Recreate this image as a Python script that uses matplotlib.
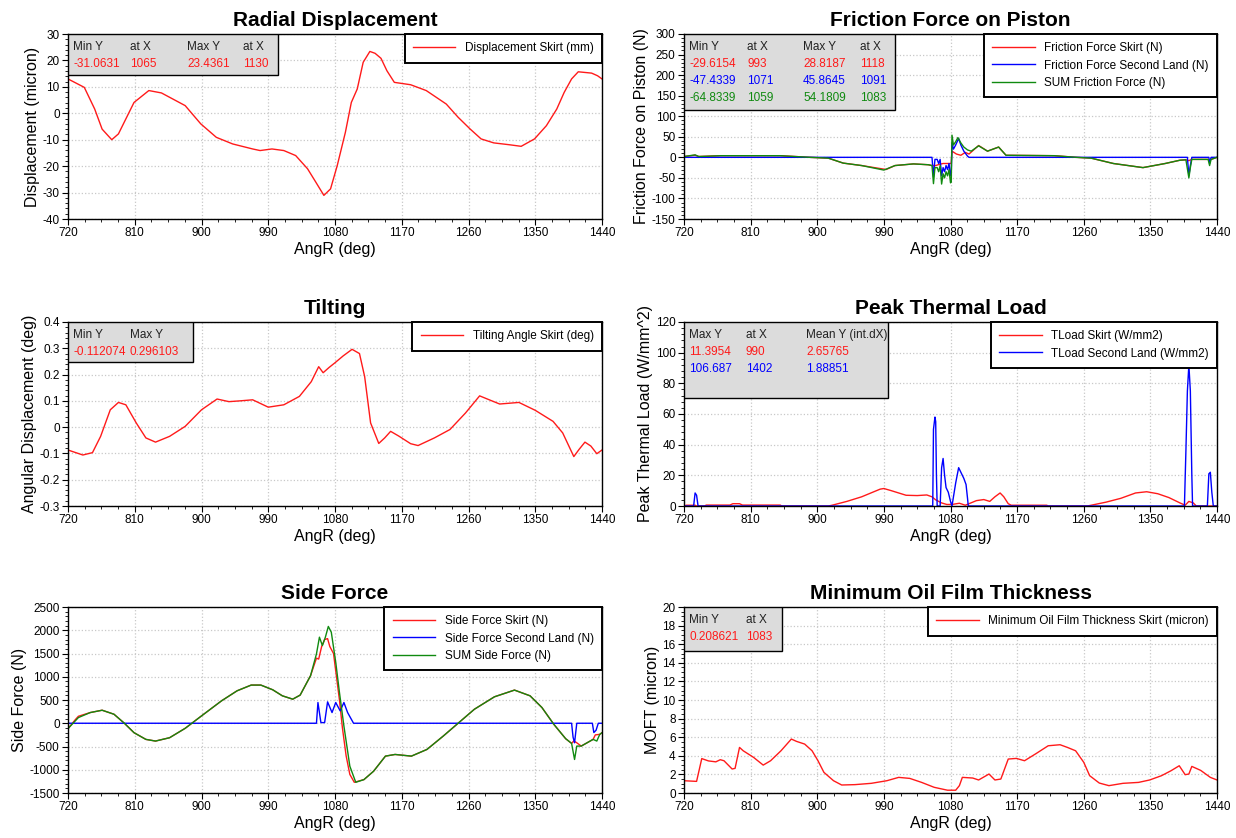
import numpy as np
import matplotlib
matplotlib.use("Agg")
import matplotlib.pyplot as plt
from matplotlib.patches import Rectangle
from matplotlib.ticker import MultipleLocator, FuncFormatter

plt.rcParams["font.family"] = ["Liberation Sans", "DejaVu Sans"]
plt.rcParams["axes.unicode_minus"] = False

RED, BLUE, GREEN = "#ff1a1a", "#0000ff", "#108a10"

# ---- radial displacement (micron) ----
rad_x = [720, 742, 756, 766, 779, 788, 809, 829, 846, 878, 899, 920, 942, 969, 979, 995, 1011,
         1027, 1043, 1054, 1065, 1074, 1083, 1094, 1102, 1110, 1118, 1127, 1134, 1142, 1150, 1160,
         1182, 1203, 1230, 1246, 1262, 1277, 1294, 1315, 1331, 1349, 1365, 1379, 1389, 1399, 1408,
         1426, 1434, 1440]
rad_y = [13.0, 9.8, 1.6, -6.0, -10.0, -7.8, 4.1, 8.6, 7.7, 2.9, -4.0, -9.1, -11.6, -13.5, -14.1,
         -13.5, -14.1, -16.0, -21.0, -26.0, -31.06, -28.6, -19.8, -7.2, 4.1, 9.2, 19.3, 23.4, 22.7,
         20.8, 16.1, 11.7, 10.8, 8.6, 3.5, -1.5, -5.9, -9.7, -11.2, -11.9, -12.5, -9.7, -4.7, 1.6,
         7.9, 13.0, 15.7, 15.2, 14.2, 13.0]

# ---- friction force (N) ----
fr_red_x = [720, 735, 740, 770, 850, 890, 915, 935, 960, 993, 1005, 1030, 1050, 1055, 1060, 1065,
            1070, 1080, 1081, 1082, 1088, 1094, 1100, 1105, 1118, 1130, 1145, 1155, 1220, 1250,
            1270, 1300, 1340, 1370, 1390, 1398, 1402, 1406, 1428, 1430, 1432, 1440]
fr_red_y = [2, 5, 2, 4, 4, 0, -2, -14, -20, -29.6, -20, -16, -18, -20, -20, -17, -15, -15, -14,
            15, 8, 5, 12, 8, 28.8, 15, 25, 5, 4, 0, -2, -15, -25, -15, -7, -6, -8, -5, -5, -8,
            -5, 0]
fr_blue_x = [720, 1055, 1057, 1059, 1062, 1064, 1066, 1068, 1070, 1072, 1074, 1076, 1078, 1080,
             1081, 1082, 1084, 1087, 1091, 1094, 1098, 1103, 1105, 1400, 1402, 1404, 1406, 1429,
             1430, 1432, 1440]
fr_blue_y = [0, 0, -47, -5, -5, -15, -5, -45, -25, -35, -20, -30, -15, -45, -40, 35, 20, 30, 45.9,
             30, 15, 3, 0, 0, -45, -20, 0, 0, -15, 0, 0]
fr_sum_x = [720, 735, 740, 770, 850, 890, 915, 935, 960, 990, 1005, 1030, 1050, 1055, 1057, 1059,
            1062, 1064, 1066, 1068, 1070, 1072, 1074, 1076, 1078, 1080, 1081, 1082, 1084, 1087,
            1090, 1094, 1098, 1103, 1108, 1118, 1130, 1145, 1155, 1220, 1250, 1270, 1300, 1340,
            1370, 1390, 1398, 1402, 1404, 1406, 1428, 1430, 1432, 1440]
fr_sum_y = [2, 6, 2, 4, 4, 0, -2, -14, -20, -31, -20, -16, -18, -20, -64, -25, -25, -35, -20, -65,
            -40, -50, -35, -45, -30, -62, -60, 54, 30, 38, 48, 35, 25, 18, 15, 28, 15, 25, 5, 4,
            0, -2, -15, -25, -15, -7, -6, -50, -25, -5, -5, -20, -5, 0]

# ---- tilting (deg) ----
tilt_x = [720, 740, 753, 764, 777, 788, 798, 812, 825, 838, 857, 878, 900, 921, 937, 952, 969,
          990, 1011, 1032, 1048, 1058, 1064, 1072, 1080, 1091, 1103, 1113, 1120, 1128, 1139, 1147,
          1155, 1166, 1182, 1192, 1214, 1235, 1256, 1275, 1288, 1302, 1328, 1350, 1374, 1387,
          1402, 1409, 1417, 1425, 1433, 1440]
tilt_y = [-0.087, -0.106, -0.097, -0.035, 0.066, 0.094, 0.085, 0.016, -0.041, -0.057, -0.035,
          0.003, 0.066, 0.107, 0.097, 0.100, 0.104, 0.076, 0.085, 0.117, 0.173, 0.230, 0.207,
          0.227, 0.245, 0.271, 0.296, 0.280, 0.192, 0.016, -0.062, -0.041, -0.016, -0.034,
          -0.063, -0.070, -0.041, -0.009, 0.054, 0.119, 0.104, 0.088, 0.094, 0.064, 0.022,
          -0.022, -0.112, -0.085, -0.057, -0.072, -0.101, -0.087]

# ---- peak thermal load (W/mm^2) ----
tl_red_x = [720, 723, 735, 737, 748, 750, 782, 786, 795, 799, 850, 852, 915, 920, 940, 960, 975,
            985, 990, 1000, 1010, 1020, 1035, 1048, 1055, 1060, 1068, 1075, 1082, 1092, 1100,
            1105, 1115, 1125, 1133, 1140, 1147, 1152, 1158, 1162, 1210, 1212, 1265, 1270, 1290,
            1310, 1330, 1345, 1360, 1375, 1390, 1397, 1402, 1408, 1412, 1440]
tl_red_y = [0, 0.5, 0.5, 0, 0, 0.6, 0.6, 1.5, 1.5, 0.6, 0.6, 0, 0, 0.5, 3, 6, 9, 11, 11.4, 10,
            8.5, 7, 6.8, 7.2, 6, 4, 2, 1, 1, 1.8, 0.5, 1.5, 3.5, 4.2, 3, 6, 8.5, 6, 1.5, 0.5, 0.5,
            0, 0, 0.5, 2.5, 5, 8.5, 9.3, 8, 5.5, 2, 0.5, 3, 2, 0, 0]
tl_blue_x = [720, 733, 735, 737, 739, 1056, 1057, 1059, 1060, 1061, 1062, 1066, 1068, 1070, 1072,
             1074, 1077, 1080, 1082, 1087, 1091, 1095, 1098, 1101, 1103, 1104, 1396, 1398, 1400,
             1402, 1404, 1406, 1407, 1427, 1429, 1431, 1433, 1435, 1440]
tl_blue_y = [0, 0, 8.5, 7, 0, 0, 50, 58, 55, 20, 0, 0, 25, 31, 20, 12, 9, 3, 0, 15, 25, 21, 18, 14,
             5, 0, 0, 36, 75, 92, 75, 20, 0, 0, 21, 22, 9, 0, 0]

# ---- side force (N) ----
sf_sum_x = [720, 734, 750, 766, 782, 796, 809, 825, 838, 857, 878, 900, 927, 948, 967, 980, 996,
            1009, 1023, 1033, 1047, 1055, 1059, 1063, 1067, 1071, 1075, 1081, 1086, 1092, 1100,
            1108, 1119, 1132, 1148, 1161, 1183, 1204, 1226, 1247, 1268, 1295, 1322, 1343, 1359,
            1375, 1391, 1399, 1403, 1406, 1412, 1428, 1433, 1437, 1440]
sf_sum_y = [-116, 122, 230, 280, 194, 0, -203, -347, -383, -311, -109, 158, 482, 698, 821, 821,
            720, 590, 518, 605, 1022, 1491, 1851, 1671, 1850, 2082, 1959, 1311, 662, -59, -923,
            -1270, -1212, -1032, -707, -671, -707, -563, -275, 14, 302, 569, 713, 590, 338, -22,
            -332, -433, -779, -491, -491, -347, -383, -239, -203]
sf_red_x = [720, 730, 734, 750, 766, 782, 796, 809, 825, 838, 857, 878, 900, 927, 948, 967, 980,
            996, 1009, 1023, 1033, 1047, 1055, 1058, 1062, 1066, 1070, 1073, 1078, 1082, 1086,
            1090, 1095, 1100, 1106, 1119, 1132, 1148, 1161, 1183, 1204, 1226, 1247, 1268, 1295,
            1322, 1343, 1359, 1375, 1391, 1399, 1402, 1406, 1412, 1428, 1431, 1437, 1440]
sf_red_y = [-116, 80, 150, 230, 280, 194, 0, -203, -347, -383, -311, -109, 158, 482, 698, 821,
            821, 720, 590, 518, 605, 1022, 1400, 1380, 1650, 1800, 1820, 1650, 1500, 1000, 500,
            -100, -700, -1100, -1270, -1212, -1032, -707, -671, -707, -563, -275, 14, 302, 569,
            713, 590, 338, -22, -332, -433, -380, -420, -491, -347, -250, -239, -203]
sf_blue_x = [720, 1055, 1057, 1061, 1066, 1070, 1076, 1081, 1087, 1092, 1097, 1105, 1399, 1401,
             1403, 1406, 1427, 1429, 1432, 1435, 1440]
sf_blue_y = [0, 0, 446, 14, 14, 460, 230, 446, 266, 446, 230, 0, 0, -300, -420, 0, 0, -200, -150,
             0, 0]

# ---- minimum oil film thickness (micron) ----
moft_x = [720, 737, 744, 753, 763, 769, 774, 785, 789, 795, 800, 814, 827, 837, 851, 865, 872,
          883, 893, 901, 909, 922, 933, 951, 973, 994, 1010, 1025, 1041, 1058, 1076, 1087, 1092,
          1096, 1110, 1118, 1132, 1140, 1148, 1158, 1169, 1180, 1196, 1212, 1228, 1238, 1249,
          1260, 1268, 1281, 1294, 1313, 1334, 1349, 1365, 1378, 1389, 1397, 1402, 1406, 1418,
          1431, 1440]
moft_y = [1.32, 1.25, 3.7, 3.45, 3.35, 3.58, 3.47, 2.58, 2.65, 4.9, 4.54, 3.83, 3.0, 3.47, 4.54,
          5.8, 5.55, 5.26, 4.54, 3.47, 2.22, 1.32, 0.86, 0.9, 1.04, 1.32, 1.68, 1.57, 1.14, 0.61,
          0.3, 0.3, 0.79, 1.68, 1.61, 1.4, 2.04, 1.4, 1.5, 3.65, 3.72, 3.47, 4.26, 5.08, 5.19,
          4.9, 4.54, 3.3, 1.86, 1.07, 0.79, 1.04, 1.14, 1.4, 1.86, 2.4, 2.93, 1.97, 2.04, 2.86,
          2.43, 1.68, 1.4]

x_ticks = [720, 810, 900, 990, 1080, 1170, 1260, 1350, 1440]

W, H = 1236, 838
fig = plt.figure(figsize=(W / 100, H / 100), dpi=100)


def make_ax(px_left, px_top, px_right, px_bottom):
    return fig.add_axes([px_left / W, 1 - px_bottom / H, (px_right - px_left) / W,
                         (px_bottom - px_top) / H])


def style(ax, title, ylabel, ylim, ystep, yfmt=None):
    ax.set_xlim(720, 1440)
    ax.set_ylim(*ylim)
    ax.set_xticks(x_ticks)
    ax.xaxis.set_minor_locator(MultipleLocator(22.5))
    ax.yaxis.set_major_locator(MultipleLocator(ystep))
    ax.yaxis.set_minor_locator(MultipleLocator(ystep / 5))
    if yfmt:
        ax.yaxis.set_major_formatter(FuncFormatter(yfmt))
    ax.tick_params(which="major", length=4, labelsize=8.5, pad=2)
    ax.tick_params(which="minor", length=2)
    ax.grid(True, which="major", color="#c8c8c8", linestyle=":", linewidth=0.9)
    ax.set_axisbelow(True)
    for s in ax.spines.values():
        s.set_linewidth(1.0)
    ax.set_title(title, fontsize=15, fontweight="bold", pad=6)
    ax.set_xlabel("AngR (deg)", fontsize=11.5, labelpad=2)
    ax.set_ylabel(ylabel, fontsize=11.5, labelpad=2)


def stat_box(ax, px_w, px_h, cols_px, rows, colors, ax_px_w, ax_px_h):
    ax.add_patch(Rectangle((0, 1 - px_h / ax_px_h), px_w / ax_px_w, px_h / ax_px_h,
                           transform=ax.transAxes, facecolor="#dcdcdc", edgecolor="black",
                           linewidth=1.0, zorder=5))
    for r, (row, col) in enumerate(zip(rows, colors)):
        y = 1 - (13 + 17 * r) / ax_px_h
        for c, txt in enumerate(row):
            ax.text(cols_px[c] / ax_px_w, y, txt, transform=ax.transAxes, fontsize=8.5,
                    color=col, va="center", ha="left", zorder=6)


def legend(ax):
    lg = ax.legend(loc="upper right", borderaxespad=0, fontsize=8.5, handlelength=3.6,
                   fancybox=False, edgecolor="black", framealpha=1, borderpad=0.7,
                   labelspacing=0.45, handletextpad=0.8)
    lg.get_frame().set_linewidth(1.4)
    lg.set_zorder(7)


AXW, AXH = 534, 185

# Radial displacement
ax = make_ax(68, 34, 602, 219)
ax.plot(rad_x, rad_y, color=RED, lw=1.0, label="Displacement Skirt (mm)")
style(ax, "Radial Displacement", "Displacement (micron)", (-40, 30), 10)
stat_box(ax, 210, 41, [5, 62, 119, 175],
         [["Min Y", "at X", "Max Y", "at X"], ["-31.0631", "1065", "23.4361", "1130"]],
         ["#222222", RED], AXW, AXH)
legend(ax)

# Friction
ax = make_ax(684, 34, 1217, 219)
ax.plot(fr_red_x, fr_red_y, color=RED, lw=1.0, label="Friction Force Skirt (N)")
ax.plot(fr_blue_x, fr_blue_y, color=BLUE, lw=1.0, label="Friction Force Second Land (N)")
ax.plot(fr_sum_x, fr_sum_y, color=GREEN, lw=1.0, label="SUM Friction Force (N)")
style(ax, "Friction Force on Piston", "Friction Force on Piston (N)", (-150, 300), 50)
stat_box(ax, 211, 76, [5, 63, 119, 176],
         [["Min Y", "at X", "Max Y", "at X"], ["-29.6154", "993", "28.8187", "1118"],
          ["-47.4339", "1071", "45.8645", "1091"], ["-64.8339", "1059", "54.1809", "1083"]],
         ["#222222", RED, BLUE, GREEN], 533, AXH)
legend(ax)

# Tilting
ax = make_ax(68, 322, 602, 506)
ax.plot(tilt_x, tilt_y, color=RED, lw=1.0, label="Tilting Angle Skirt (deg)")
style(ax, "Tilting", "Angular Displacement (deg)", (-0.3, 0.4), 0.1,
      lambda v, p: "0" if abs(v) < 1e-9 else f"{v:.1f}")
stat_box(ax, 125, 40, [5, 62], [["Min Y", "Max Y"], ["-0.112074", "0.296103"]],
         ["#222222", RED], AXW, 184)
legend(ax)

# Peak thermal load
ax = make_ax(684, 322, 1217, 506)
ax.plot(tl_red_x, tl_red_y, color=RED, lw=1.0, label="TLoad Skirt (W/mm2)")
ax.plot(tl_blue_x, tl_blue_y, color=BLUE, lw=1.0, label="TLoad Second Land (W/mm2)")
style(ax, "Peak Thermal Load", "Peak Thermal Load (W/mm^2)", (0, 120), 20)
stat_box(ax, 204, 76, [5, 62, 122],
         [["Max Y", "at X", "Mean Y (int.dX)"], ["11.3954", "990", "2.65765"],
          ["106.687", "1402", "1.88851"]],
         ["#222222", RED, BLUE], 533, 184)
legend(ax)

# Side force
ax = make_ax(68, 607, 602, 793)
ax.plot(sf_red_x, sf_red_y, color=RED, lw=1.0, label="Side Force Skirt (N)")
ax.plot(sf_blue_x, sf_blue_y, color=BLUE, lw=1.0, label="Side Force Second Land (N)")
ax.plot(sf_sum_x, sf_sum_y, color=GREEN, lw=1.0, label="SUM Side Force (N)")
style(ax, "Side Force", "Side Force (N)", (-1500, 2500), 500)
legend(ax)

# MOFT
ax = make_ax(684, 607, 1217, 793)
ax.plot(moft_x, moft_y, color=RED, lw=1.0, label="Minimum Oil Film Thickness Skirt (micron)")
style(ax, "Minimum Oil Film Thickness", "MOFT (micron)", (0, 20), 2)
ax.yaxis.set_minor_locator(MultipleLocator(0.5))
stat_box(ax, 98, 44, [5, 62], [["Min Y", "at X"], ["0.208621", "1083"]],
         ["#222222", RED], 533, 186)
legend(ax)

fig.savefig("out.png", dpi=100)
